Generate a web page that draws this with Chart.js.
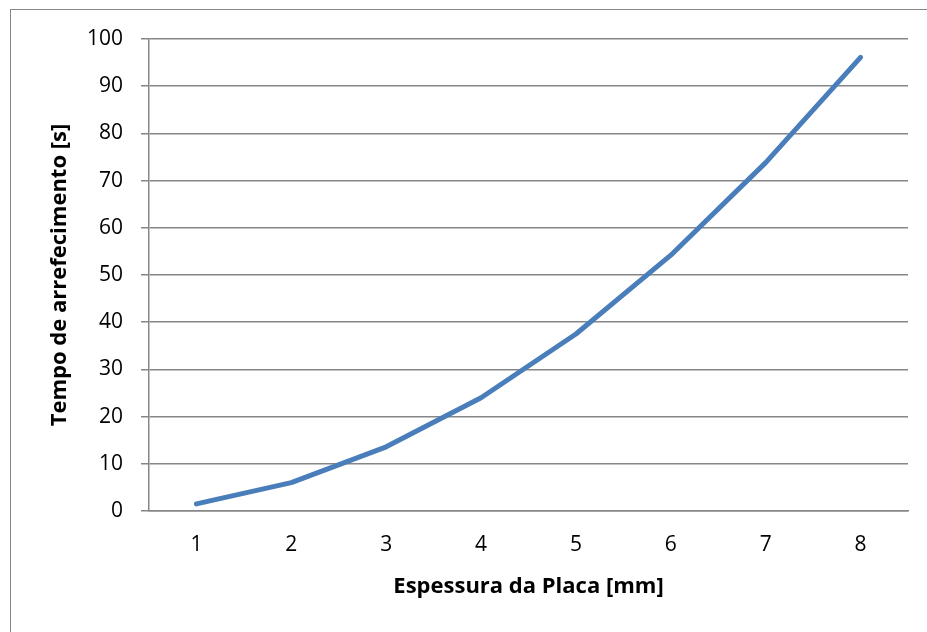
<!DOCTYPE html>
<html>
<head>
<meta charset="utf-8">
<script src="https://cdn.jsdelivr.net/npm/chart.js@4.4.0/dist/chart.umd.min.js"></script>
<style>
  html, body { margin: 0; padding: 0; background: #ffffff; }
  #wrap { width: 927px; height: 632px; }
</style>
</head>
<body>
<div id="wrap"><canvas id="c" width="927" height="632"></canvas></div>
<script>
const categories = ["1", "2", "3", "4", "5", "6", "7", "8"];
const coolingTime = [1.5, 6.0, 13.6, 24.0, 37.5, 54.2, 73.8, 96.1];
const yTickMin = 0;
const yTickMax = 100;
const yTickStep = 10;
const xTitle = "Espessura da Placa [mm]";
const yTitle = "Tempo de arrefecimento [s]";

const FONT = "'Open Sans', Lato, 'DejaVu Sans', sans-serif";
const GRID = "#868686";

const frame = {
  id: 'frame',
  beforeDraw(chart) {
    const ctx = chart.ctx;
    ctx.save();
    ctx.fillStyle = '#ffffff';
    ctx.fillRect(0, 0, chart.width, chart.height);
    ctx.strokeStyle = GRID;
    ctx.lineWidth = 1;
    ctx.strokeRect(10.5, 9.5, 1000, 1000);
    ctx.restore();
  }
};

new Chart(document.getElementById('c'), {
  type: 'line',
  data: {
    labels: categories,
    datasets: [{
      data: coolingTime,
      borderColor: '#4a7ebb',
      borderWidth: 5,
      borderCapStyle: 'round',
      borderJoinStyle: 'round',
      pointRadius: 0,
      pointHoverRadius: 0,
      tension: 0,
      fill: false
    }]
  },
  options: {
    responsive: false,
    devicePixelRatio: 1,
    animation: false,
    events: [],
    layout: { padding: { left: 20, top: 39, right: 19, bottom: 20 } },
    plugins: { legend: { display: false }, tooltip: { enabled: false } },
    scales: {
      x: {
        type: 'category',
        offset: true,
        grid: { display: false, drawTicks: false },
        border: { display: true, color: GRID, width: 1.5 },
        ticks: { color: '#000', font: { family: FONT, size: 21 }, padding: 21, maxRotation: 0 },
        title: { display: true, text: xTitle, color: '#000', font: { family: FONT, size: 22, weight: 'bold' }, padding: { top: 0, bottom: 12 } },
        afterFit(scale) { scale.height = 101; }
      },
      y: {
        min: yTickMin,
        max: yTickMax,
        grid: { color: GRID, lineWidth: 1.5, tickLength: 8, drawTicks: true },
        border: { display: true, color: GRID, width: 1.5 },
        ticks: { stepSize: yTickStep, color: '#000', font: { family: FONT, size: 21 }, padding: 18 },
        title: { display: true, text: yTitle, color: '#000', font: { family: FONT, size: 22, weight: 'bold' }, padding: { top: 27, bottom: 0 } },
        afterFit(scale) { scale.width = 129; }
      }
    }
  },
  plugins: [frame]
});
</script>
</body>
</html>
